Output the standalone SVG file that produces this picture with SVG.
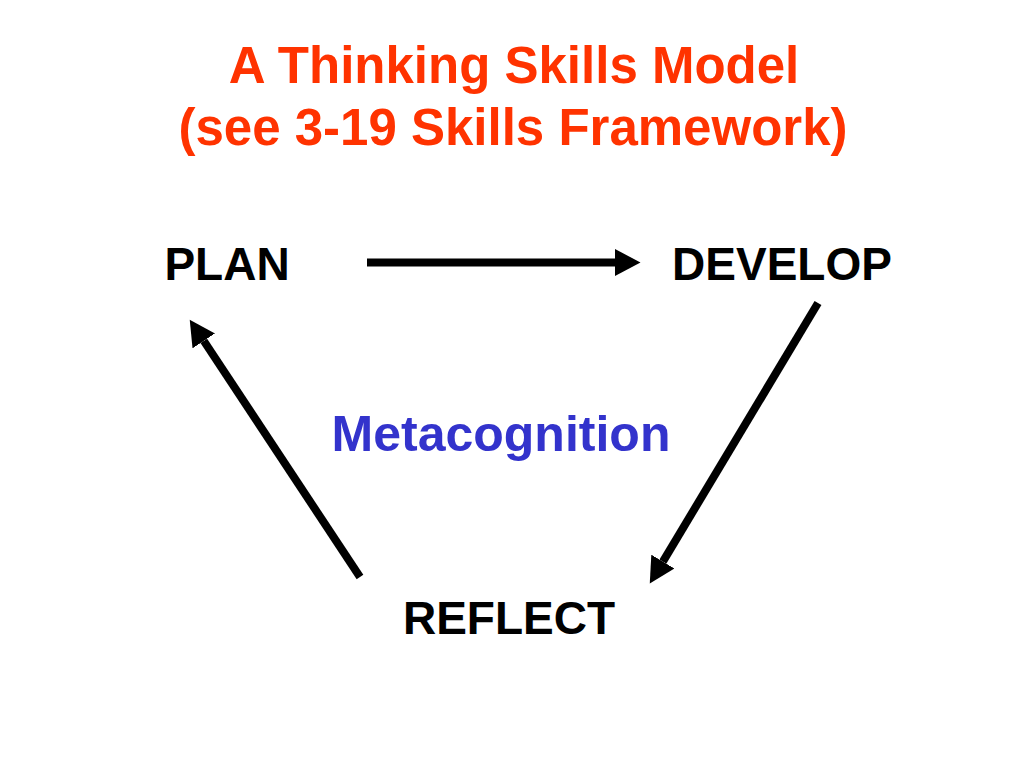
<svg xmlns="http://www.w3.org/2000/svg" width="1024" height="768" viewBox="0 0 1024 768">
<style>
.t{font-family:"Liberation Sans",Arial,sans-serif;font-weight:bold;text-anchor:middle}
.title{fill:#FF3300;font-size:51px}
.node{fill:#000;font-size:46px}
.meta{fill:#3333CC;font-size:50px}
.c{stroke:#000;stroke-width:8;fill:none}
</style>
<defs>
<marker id="ah" markerUnits="userSpaceOnUse" markerWidth="26" markerHeight="28" viewBox="0 0 26 28" refX="0" refY="14" orient="auto">
<path d="M0,0.5 L25.5,14 L0,27.5 Z" fill="#000"/>
</marker>
</defs>
<rect width="1024" height="768" fill="#fff"/>
<g id="title">
<text class="t title" x="514" y="83">A Thinking Skills Model</text>
<text class="t title" x="513" y="145">(see 3-19 Skills Framework)</text>
</g>
<g id="plan"><text class="t node" x="227" y="280">PLAN</text></g>
<g id="develop"><text class="t node" x="782" y="280">DEVELOP</text></g>
<g id="reflect"><text class="t node" x="509" y="634">REFLECT</text></g>
<g id="metacognition"><text class="t meta" x="501" y="451">Metacognition</text></g>
<g id="connectors">
<line class="c" x1="367" y1="262.5" x2="615" y2="262.5" marker-end="url(#ah)"/>
<line class="c" x1="818" y1="303" x2="662.9" y2="561.6" marker-end="url(#ah)"/>
<line class="c" x1="360" y1="577" x2="203.8" y2="340.9" marker-end="url(#ah)"/>
</g>
</svg>
